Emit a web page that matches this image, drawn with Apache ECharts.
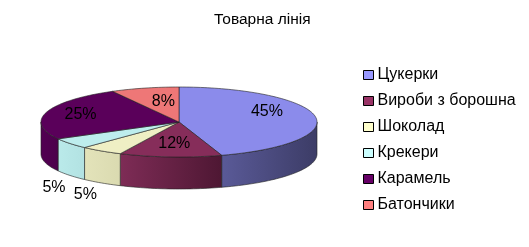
<!DOCTYPE html>
<html><head><meta charset="utf-8">
<script src="https://cdn.jsdelivr.net/npm/echarts@6/dist/echarts.min.js"></script>
<style>html,body{margin:0;padding:0;background:#fff}#c{width:529px;height:247px}</style>
</head><body><div id="c"></div>
<script>
const title = 'Товарна лінія';
const categories = ['Цукерки','Вироби з борошна','Шоколад','Крекери','Карамель','Батончики'];
const values = [45, 12, 5, 5, 25, 8];
const labels = ['45%','12%','5%','5%','25%','8%'];

const legendColors = ['#9999FF','#993366','#FFFFCC','#CCFFFF','#660066','#FF8080'];
const topColors = ['#8B8BEB','#862D5A','#EFEFC4','#BDEDED','#5A005A','#EE7777'];
const sideColors = [['#5A5A98','#3C3C66'],['#7E2C56','#4E1733'],['#E3E3BA','#DADAB0'],['#BAEAEA','#B2E2E2'],['#520052','#4C004C'],['#E07070','#D06666']];
// label nudges (style only)
const labelNudge = [[-2,-4],[1,2],[0,0],[0,0],[-11,2],[7,5]];

const G = {cx:179, cy:122, rx:138, ry:35, depth:32};
const total = values.reduce((a,b)=>a+b,0);
const starts = []; let acc = 0;
values.forEach(v=>{ starts.push(acc/total*360); acc += v; });

function pt(deg, dy){ const r = deg*Math.PI/180; return [G.cx + G.rx*Math.sin(r), G.cy - G.ry*Math.cos(r) + (dy||0)]; }
function arc(a, b, dy){ const pts=[]; const n=Math.max(2,Math.ceil(Math.abs(b-a)/1.5)); for(let i=0;i<=n;i++){ pts.push(pt(a+(b-a)*i/n, dy)); } return pts; }

function makeSeries(i){
  return {
    type:'custom', name: categories[i], coordinateSystem:'none',
    itemStyle:{color: legendColors[i]},
    data:[[values[i]]],
    renderItem: function(params, api){
      const a = starts[i], b = starts[i] + values[i]/total*360;
      const children = [];
      const sa = Math.max(a,90), sb = Math.min(b,270);
      if (sa < sb){
        const top = arc(sa, sb, 0), bot = arc(sb, sa, G.depth);
        children.push({type:'polygon', z2:1, shape:{points: top.concat(bot)},
          style:{fill:{type:'linear',x:0,y:0,x2:1,y2:0,colorStops:[{offset:0,color:sideColors[i][0]},{offset:1,color:sideColors[i][1]}]}, stroke:'#222', lineWidth:0.6}});
      }
      const tp = [[G.cx,G.cy]].concat(arc(a,b,0));
      children.push({type:'polygon', z2:10, shape:{points:tp}, style:{fill:topColors[i], stroke:'#222', lineWidth:0.6}});
      const mid = (a+b)/2;
      let lp;
      if (values[i] > 5){
        const r = mid*Math.PI/180, k=0.66;
        lp = [G.cx + G.rx*k*Math.sin(r), G.cy - G.ry*k*Math.cos(r) - 3];
      } else {
        const p = pt(mid, G.depth); lp = [p[0]-16, p[1]+12];
      }
      lp = [lp[0]+labelNudge[i][0], lp[1]+labelNudge[i][1]];
      children.push({type:'text', z2:20, x:lp[0], y:lp[1], style:{text:labels[i], fill:'#000', font:'16px "Liberation Sans", Arial, sans-serif', align:'center', verticalAlign:'middle'}});
      return {type:'group', children};
    }
  };
}

const chart = echarts.init(document.getElementById('c'), null, {renderer:'canvas'});
chart.setOption({
  backgroundColor:'#fff',
  animation:false,
  title:{text:title, left:214, top:12, padding:0, textStyle:{fontFamily:'"Liberation Sans", Arial, sans-serif', fontSize:15.5, fontWeight:'normal', color:'#000'}},
  legend:{orient:'vertical', left:363, top:67, padding:0, itemWidth:10, itemHeight:9, itemGap:10, icon:'rect',
    data: categories,
    itemStyle:{borderColor:'#000', borderWidth:1},
    textStyle:{fontFamily:'"Liberation Sans", Arial, sans-serif', fontSize:16, color:'#000', padding:[0,0,0,-1]}},
  series: categories.map((c,i)=>makeSeries(i))
});
</script></body></html>
